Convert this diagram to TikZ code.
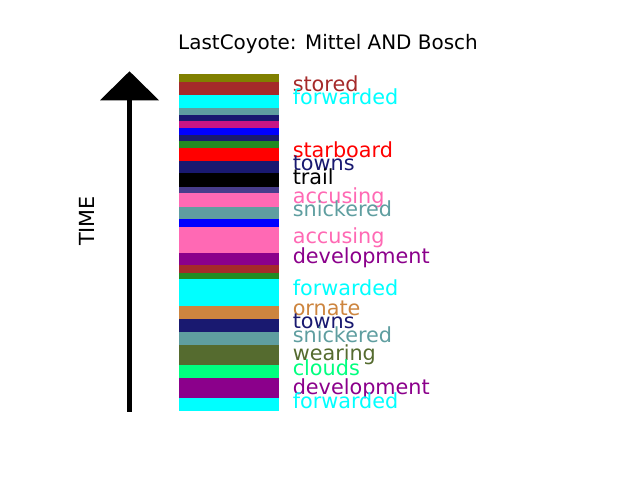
\documentclass[tikz,border=0pt]{standalone}
\usepackage{fontspec}
\setmainfont{DejaVu Sans}
\definecolor{cOlive}{HTML}{808000}
\definecolor{cBrown}{HTML}{A52A2A}
\definecolor{cCyan}{HTML}{00FFFF}
\definecolor{cCadet}{HTML}{5F9EA0}
\definecolor{cMidnight}{HTML}{191970}
\definecolor{cMVR}{HTML}{C71585}
\definecolor{cBlue}{HTML}{0000FF}
\definecolor{cForest}{HTML}{228B22}
\definecolor{cRed}{HTML}{FF0000}
\definecolor{cBlack}{HTML}{000000}
\definecolor{cDSB}{HTML}{483D8B}
\definecolor{cHot}{HTML}{FF69B4}
\definecolor{cDMag}{HTML}{8B008B}
\definecolor{cPeru}{HTML}{CD853F}
\definecolor{cDOG}{HTML}{556B2F}
\definecolor{cSpring}{HTML}{00FF7F}
\tikzset{
  lbl/.style={anchor=base west, inner sep=0pt, font=\fontsize{15}{15}\selectfont},
}
\begin{document}
\begin{tikzpicture}[x=0.01in, y=-0.01in]
\useasboundingbox (0,0) rectangle (640,480);
% stripes
\foreach \a/\b/\c in {74/82/cOlive, 82/94.7/cBrown, 94.7/108/cCyan, 108/114.7/cCadet,
  114.7/121.3/cMidnight, 121.3/128/cMVR, 128/134.7/cBlue, 134.7/140.7/cMidnight,
  140.7/148/cForest, 148/160.7/cRed, 160.7/173.3/cMidnight, 173.3/186.7/cBlack,
  186.7/193.3/cDSB, 193.3/206.7/cHot, 206.7/219.3/cCadet, 219.3/226.7/cBlue,
  226.7/252.7/cHot, 252.7/265.3/cDMag, 265.3/272.7/cBrown, 272.7/279.3/cForest,
  279.3/306/cCyan, 306/318.7/cPeru, 318.7/332/cMidnight, 332/345.3/cCadet,
  345.3/364.7/cDOG, 364.7/378/cSpring, 378/398/cDMag, 398/410.7/cCyan}
  {\fill[\c] (179,\a) rectangle (278.7,\b);}
% labels
\node[lbl, text=cBrown] (l1) at (292.5,91.3) {stored};
\node[lbl, text=cCyan] (l2) at (292.5,105) {forwarded};
\node[lbl, text=cRed] (l3) at (292.5,157.8) {starboard};
\node[lbl, text=cMidnight] (l4) at (292.5,170.5) {towns};
\node[lbl, text=cBlack] (l5) at (292.5,184.5) {trail};
\node[lbl, text=cHot] (l6) at (292.5,203.2) {accusing};
\node[lbl, text=cCadet] (l7) at (292.5,217) {snickered};
\node[lbl, text=cHot] (l8) at (292.5,243.8) {accusing};
\node[lbl, text=cDMag] (l9) at (292.5,263.2) {development};
\node[lbl, text=cCyan] (l10) at (292.5,295.8) {forwarded};
\node[lbl, text=cPeru] (l11) at (292.5,315.8) {ornate};
\node[lbl, text=cMidnight] (l12) at (292.5,328.5) {towns};
\node[lbl, text=cCadet] (l13) at (292.5,342.5) {snickered};
\node[lbl, text=cDOG] (l14) at (292.5,361) {wearing};
\node[lbl, text=cSpring] (l15) at (292.5,375.2) {clouds};
\node[lbl, text=cDMag] (l16) at (292.5,394.2) {development};
\node[lbl, text=cCyan] (l17) at (292.5,408.2) {forwarded};
% title
\node[anchor=base, inner sep=0pt, font=\fontsize{14.4}{14.4}\selectfont] (title) at (328,49.3) {LastCoyote: Mittel AND Bosch};
% time axis
\node[rotate=90, inner sep=0pt, font=\fontsize{15}{15}\selectfont] (time) at (87,221) {TIME};
\coordinate (abot) at (129.5,412);
\coordinate (atop) at (129.5,100.3);
\draw[line width=3.3pt] (abot) -- (atop);
\fill[black] (100,100.3) -- (159,100.3) -- (129.5,71.3) -- cycle;
\end{tikzpicture}
\end{document}
